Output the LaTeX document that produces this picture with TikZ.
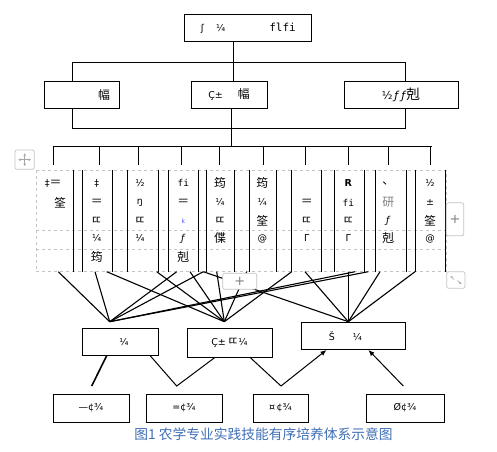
\documentclass[tikz,border=0pt]{standalone}
\usepackage{fontspec}
\setmainfont{DejaVu Sans}
\newfontfamily\cjk{Noto Sans CJK SC}[Scale=1.25]
\newfontfamily\mono{DejaVu Sans Mono}
\usetikzlibrary{arrows.meta,positioning,calc}
\definecolor{capAzul}{HTML}{3F6FB6}
\definecolor{uiGris}{HTML}{C4C4C4}
\newcommand{\zh}[1]{{\cjk #1}}
\tikzset{
  caja/.style={draw=black, line width=0.9pt, minimum width=#1, minimum height=27pt, inner sep=0pt, font=\fontsize{9.5}{11}\selectfont},
  celda/.style={inner sep=0pt, font=\fontsize{9.5}{11}\selectfont},
  linea/.style={line width=0.9pt},
  abanico/.style={line width=1.1pt},
  enlace/.style={line width=1pt},
  arrflecha/.style={line width=1pt, -{Latex[length=6pt,width=5pt]}},
  rejilla/.style={draw=uiGris, dashed, line width=0.6pt},
  boton/.style={draw=uiGris, fill=white, rounded corners=2pt, line width=0.7pt},
}

\begin{document}
\begin{tikzpicture}[x=1pt,y=-1pt]
\useasboundingbox (0,0) rectangle (497,451);
\fill[white] (0,0) rectangle (497,451);

% Nivel superior
\node[caja=127pt] (top) at (248.3,28.3) {ʃ\hspace{12pt}¼\hspace{44pt}{\mono\fontsize{11}{12}\selectfont flfi}};

% Segundo nivel
\node[caja=75pt] (b1) at (81.5,94.5) {\hspace*{45pt}\zh{幅}};
\node[caja=76pt] (b2) at (229,94.5) {Ç±\hspace{15pt}\zh{幅}};
\node[caja=114pt] (b3) at (401,94.5) {\fontsize{11}{12}\selectfont ½\,\textit{ƒ}\,\textit{ƒ}\zh{剋}};

\coordinate (j0) at (72,62);
\coordinate (j1) at (233,62);
\coordinate (j2) at (405.7,62);
\draw[linea] (j1 |- top.south) -- (j1 |- b2.north);
\draw[linea] (j0 |- b1.north) -- (j0) -- (j2) -- (j2 |- b3.north);

\coordinate (k0) at (72,128);
\coordinate (k1) at (231.7,146.7);
\coordinate (k2) at (405.7,128);
\draw[linea] (k0 |- b1.south) -- (k0) -- (k2) -- (k2 |- b3.south);
\draw[linea] (k1 |- b2.south) -- (k1);

% Ramas hacia la tabla
\draw[linea] (53.3,146.7) -- (431.7,146.7);
\foreach \x [count=\i] in {53.3,99.3,138.3,181.7,219.3,263.3,305.7,348.3,388.3,430.7} {
  \coordinate (tk\i) at (\x,165);
  \draw[linea] (tk\i |- k1) -- (tk\i);
}

% Tabla
\draw[rejilla] (36,170) rectangle (446,271.7);
\draw[rejilla] (36,230) -- (446,230);
\draw[rejilla] (36,249) -- (446,249);
\foreach \x in {73.3,82.3,112.3,127.3,158.3,168.3,198.3,206.7,234.3,249.3,276.7,291.7,321.7,334.3,364.3,375.7,406.7,415.7,445.7}
  \draw[linea] (\x,170) -- (\x,271.7);

\node[celda] (c0a) at (53.3,183) {‡\zh{＝}};
\node[celda] (c0b) at (60,202.5) {\zh{筌}};
\foreach \x/\ra/\rb/\rc/\rd/\re [count=\i] in {
  96.7/‡/\zh{＝}/\zh{ㄸ}/¼/\zh{筠},
  140/½/ŋ/\zh{ㄸ}/¼/{},
  183.3/{\mono fi}/\zh{＝}/{\color{blue!70}\fontsize{6}{6}\selectfont k}/\textit{ƒ}/\zh{剋},
  220/\zh{筠}/¼/\zh{ㄸ}/\zh{偞}/{},
  262.3/\zh{筠}/¼/\zh{筌}/@/{},
  306.7/{}/\zh{＝}/\zh{ㄸ}/Γ/{},
  348.3/\textbf{R}/{\mono fi}/\zh{ㄸ}/Γ/{},
  388.3/\zh{、}/{\color{gray}\zh{研}}/\textit{ƒ}/\zh{剋}/{},
  430/½/±/\zh{筌}/@/{}} {
  \node[celda] (c\i a) at (\x,183) {\ra};
  \node[celda] (c\i b) at (\x,202.5) {\rb};
  \node[celda] (c\i c) at (\x,221) {\rc};
  \node[celda] (c\i d) at (\x,238.5) {\rd};
  \node[celda] (c\i e) at (\x,257) {\re};
}

% Tercer nivel
\node[caja=76pt] (nA) at (120,342) {\hspace*{8pt}¼};
\node[caja=85pt, minimum height=29pt] (nB) at (229.5,342.5) {Ç±\,\zh{ㄸ}¼};
\node[caja=104pt] (nC) at (353,336) {Š\hspace{18pt}¼\hspace*{15pt}};

\coordinate (vA) at (109.7,321.7);
\coordinate (vB) at (224.3,321.7);
\coordinate (vC) at (348.3,321.7);
\foreach \x in {58.3,95,176.7,203.3,355,368.3}
  \draw[abanico] (\x,271.7) -- (vA);
\foreach \x in {106.7,156.7,190,216.7,246.7,291.7}
  \draw[abanico] (\x,271.7) -- (vB);
\foreach \x in {203.3,305,348.3,380,415}
  \draw[abanico] (\x,271.7) -- (vC);

% Cuarto nivel
\node[caja=76pt, minimum height=28pt] (d1) at (91,408) {—¢¾};
\node[caja=76pt, minimum height=28pt] (d2) at (184,408) {=¢¾};
\node[caja=55pt, minimum height=28pt] (d3) at (280.5,408) {¤\,¢¾};
\node[caja=78pt, minimum height=28pt] (d4) at (405,408) {Ø¢¾};

\coordinate (p1) at (91.7,386);
\coordinate (p2) at (176.7,386);
\coordinate (p3) at (281,386);
\coordinate (p4) at (403.3,386);
\draw[enlace, line width=1.6pt] (p1) -- ($(nA.south west)!0.325!(nA.south east)$);
\draw[enlace] ($(nA.south west)!0.895!(nA.south east)$) -- (p2) -- ($(nB.south west)!0.33!(nB.south east)$);
\draw[enlace] ($(nB.south west)!0.74!(nB.south east)$) -- (p3);
\draw[arrflecha] (p3) -- ($(nC.south west)!0.247!(nC.south east)$);
\draw[arrflecha] (p4) -- ($(nC.south west)!0.647!(nC.south east)$);

\node[font=\cjk\fontsize{11}{13}\selectfont, text=capAzul, inner sep=0pt] (pie) at (263.5,434) {图1 农学专业实践技能有序培养体系示意图};

% Controles de la tabla
\draw[boton] (15,150) rectangle (34.3,169.3);
\draw[gray!70, line width=0.8pt, {Latex[length=2.5pt,width=3pt]}-{Latex[length=2.5pt,width=3pt]}] (18.2,159.7) -- (31.1,159.7);
\draw[gray!70, line width=0.8pt, {Latex[length=2.5pt,width=3pt]}-{Latex[length=2.5pt,width=3pt]}] (24.7,153.2) -- (24.7,166.1);
\node[boton, minimum width=17pt, minimum height=33pt, text=gray, font=\fontsize{13}{13}\selectfont] (masDer) at (455,219.3) {+};
\node[boton, minimum width=34pt, minimum height=16pt, inner sep=0pt, text=gray, font=\fontsize{13}{13}\selectfont] (masAbj) at (239.7,281.2) {+};
\draw[boton] (446.7,271.7) rectangle (465,288.3);
\draw[gray!70, line width=0.7pt, -{Latex[length=2pt,width=2.5pt]}] (454,279.5) -- (450.5,276);
\draw[gray!70, line width=0.7pt, -{Latex[length=2pt,width=2.5pt]}] (457.7,280.5) -- (461.5,284.3);
\end{tikzpicture}
\end{document}
